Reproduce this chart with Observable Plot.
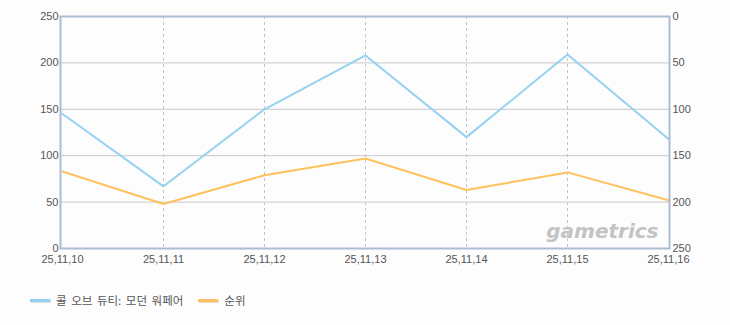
<!DOCTYPE html>
<html>
<head>
<meta charset="utf-8">
<script src="https://cdn.jsdelivr.net/npm/d3@7"></script>
<script src="https://cdn.jsdelivr.net/npm/@observablehq/plot@0.6"></script>
<style>
  body { margin: 0; background: #fdfdfd; font-family: "Noto Sans CJK KR", "DejaVu Sans", sans-serif; }
  #legend { display: flex; align-items: center; height: 20px; margin-top: 20px; padding-left: 30px; font-size: 11.5px; color: #555; word-spacing: 2px; }
  .item { display: flex; align-items: center; margin-right: 15px; }
  .sw { width: 20px; height: 3px; margin-right: 6px; box-shadow: 1px 1px 0 #ddd; }
</style>
</head>
<body>
<div id="chart"></div>
<div id="legend"></div>
<script>
const dates = ["25,11,10", "25,11,11", "25,11,12", "25,11,13", "25,11,14", "25,11,15", "25,11,16"];
const players = [145, 67, 150, 208, 120, 209, 118];
const rank = [167, 202, 171, 153, 187, 168, 198];
const leftTicks = [0, 50, 100, 150, 200, 250];
const seriesNames = ["콜 오브 듀티: 모던 워페어", "순위"];
const seriesColors = ["#95d2f1", "#ffc15e"];
const bands = [[0, 50], [100, 150], [200, 250]];

const rankMax = 250;

const plot = Plot.plot({
  width: 730,
  height: 270,
  marginLeft: 60,
  marginRight: 61,
  marginTop: 16,
  marginBottom: 22,
  style: { background: "transparent", fontFamily: "'Liberation Sans', Arial, sans-serif", fontSize: "11px", color: "#555" },
  x: { type: "point", domain: dates, padding: 0 },
  y: { domain: [0, 250] },
  marks: [
    Plot.rect(bands, { x1: dates[0], x2: dates[dates.length - 1], y1: d => d[0], y2: d => d[1], fill: "#f8f8f8" }),
    Plot.gridY(leftTicks, { stroke: "#c8c8c8", strokeOpacity: 1 }),
    Plot.gridX(dates.slice(1, -1), { stroke: "#c4c4c4", strokeOpacity: 1, strokeDasharray: "3,3" }),
    Plot.text(["gametrics"], { frameAnchor: "bottom-right", dx: -11, dy: -11, text: d => d, fontSize: 20, fontWeight: "bold", fontStyle: "italic", fill: "#c3c3c3", fontFamily: "DejaVu Sans, sans-serif", letterSpacing: "-0.5px" }),
    Plot.line(dates, { x: d => d, y: (d, i) => players[i], stroke: seriesColors[0], strokeWidth: 2 }),
    Plot.line(dates, { x: d => d, y: (d, i) => rankMax - rank[i], stroke: seriesColors[1], strokeWidth: 2 }),
    Plot.frame({ stroke: "#abbdd4", strokeWidth: 2 }),
    Plot.axisY(leftTicks, { anchor: "left", tickSize: 0, tickPadding: 2, fill: "#555", label: null }),
    Plot.axisY(leftTicks, { anchor: "right", tickSize: 0, tickPadding: 3, tickFormat: d => rankMax - d, fill: "#555", label: null }),
    Plot.axisX(dates, { anchor: "bottom", tickSize: 0, tickPadding: 7, fill: "#555", label: null })
  ]
});
document.getElementById("chart").appendChild(plot);

const legend = document.getElementById("legend");
seriesNames.forEach((name, i) => {
  const item = document.createElement("div");
  item.className = "item";
  const sw = document.createElement("span");
  sw.className = "sw";
  sw.style.background = seriesColors[i];
  const t = document.createElement("span");
  t.textContent = name;
  item.appendChild(sw);
  item.appendChild(t);
  legend.appendChild(item);
});
</script>
</body>
</html>
